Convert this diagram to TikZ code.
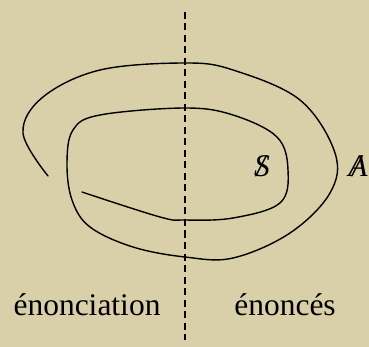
\documentclass[tikz,border=0pt]{standalone}
\usepackage{fontspec}
\setmainfont{Liberation Serif}
\usetikzlibrary{positioning}
\definecolor{parchment}{RGB}{217,208,170}
\newcommand{\barred}[1]{\ooalign{\textit{#1}\cr\hfil\textit{/}\hfil\cr}}
\tikzset{
   label text/.style={font=\fontsize{31.5pt}{36pt}\selectfont, inner sep=0pt},
   spiral/.style={line width=1.4pt, line join=round, line cap=round},
   divide/.style={line width=1.4pt, dash pattern=on 7pt off 4.5pt}
}

\begin{document}
\begin{tikzpicture}[x=1pt,y=-1pt]

  \fill[parchment] (0,0) rectangle (369,347);
  \useasboundingbox (0,0) rectangle (369,347);

  \coordinate (top)    at (185,12);
  \coordinate (bottom) at (185,340);

  \node[label text, anchor=base] at (87,315)  (enonciation) {énonciation};
  \node[label text, anchor=base] at (285,315) (enonces)     {énoncés};
  \node[label text] at (262,166) (subject) {\barred{S}};
  \node[label text] at (358,166) (other)   {\barred{A}};

  %%%%%%%%%%%

  \draw[divide] (top) -- (bottom);

  \draw[spiral] plot[smooth, tension=0.6] coordinates {
    (48,176) (23,133) (43,97) (100,70) (185,63) (233,70) (300,100)
    (335,153) (330,193) (290,233) (233,258) (185,257) (133,247)
    (90,227) (72,200) (67,163) (73,130) (100,115) (185,108) (233,115)
    (277,137) (288,170) (280,203) (233,218) (185,220) (160,217) (82,192)};

\end{tikzpicture}
\end{document}
